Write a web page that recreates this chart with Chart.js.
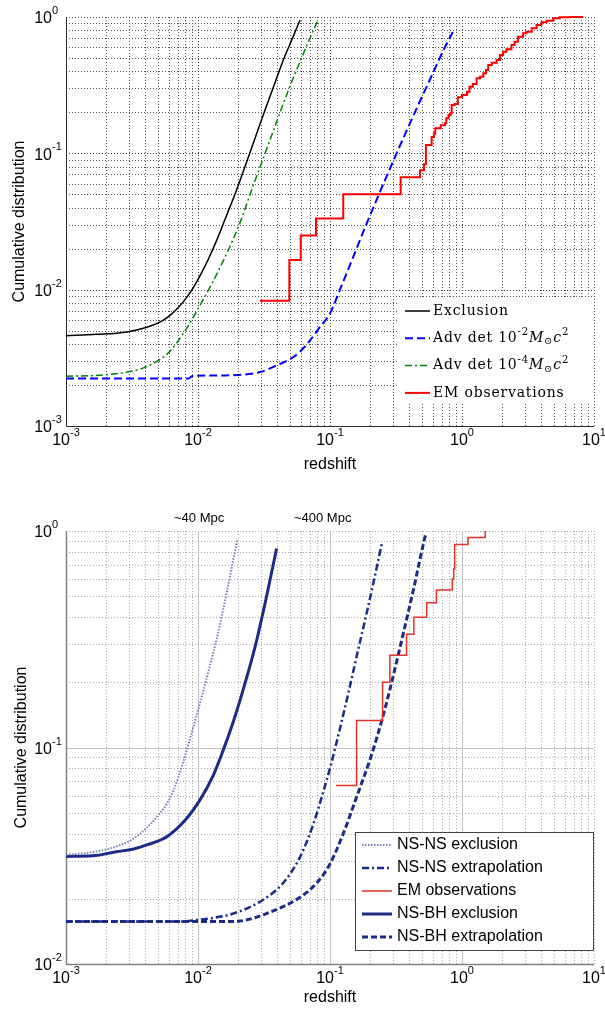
<!DOCTYPE html>
<html>
<head>
<meta charset="utf-8">
<script src="https://cdn.jsdelivr.net/npm/chart.js@4.4.1/dist/chart.umd.min.js"></script>
<style>
  body { margin: 0; background: #fff; }
  canvas { display: block; }
</style>
</head>
<body>
<canvas id="top" width="605" height="490"></canvas>
<canvas id="bottom" width="605" height="521"></canvas>
<script>
// ---- upper panel ----
const exclZ = [0.001, 0.0017, 0.0029, 0.0041, 0.005, 0.0058, 0.0068, 0.0077, 0.0089, 0.0102, 0.012, 0.0139, 0.016, 0.0196, 0.025, 0.0312, 0.037, 0.0443, 0.052, 0.0593];
const exclP = [0.0046, 0.0047, 0.0049, 0.0053, 0.0057, 0.0062, 0.0071, 0.0081, 0.0098, 0.0123, 0.0168, 0.0232, 0.0327, 0.0538, 0.104, 0.191, 0.30, 0.484, 0.70, 0.95];

const det2Z = [0.001, 0.0085, 0.009, 0.016, 0.03, 0.04, 0.05, 0.059, 0.07, 0.084, 0.1, 0.12, 0.15, 0.19, 0.24, 0.3, 0.38, 0.48, 0.6, 0.73, 0.86];
const det2P = [0.00223, 0.00223, 0.00232, 0.00235, 0.0025, 0.0028, 0.0031, 0.0035, 0.0042, 0.00534, 0.0067, 0.0102, 0.0174, 0.0307, 0.0526, 0.0869, 0.146, 0.241, 0.385, 0.581, 0.79];

const det4Z = [0.001, 0.0016, 0.0024, 0.0031, 0.0039, 0.0048, 0.0058, 0.0068, 0.0082, 0.0103, 0.013, 0.0155, 0.0185, 0.0208, 0.0262, 0.032, 0.0394, 0.0497, 0.0593, 0.07, 0.081];
const det4P = [0.00232, 0.00234, 0.00242, 0.00252, 0.00268, 0.00295, 0.00335, 0.0040, 0.0052, 0.0076, 0.0115, 0.0162, 0.0235, 0.031, 0.058, 0.098, 0.17, 0.31, 0.47, 0.69, 0.95];

const emZ = [0.0295, 0.0492, 0.060, 0.0783, 0.126, 0.343, 0.481, 0.515, 0.533, 0.589, 0.613, 0.627, 0.69, 0.743, 0.76, 0.79, 0.82, 0.835, 0.88, 0.93, 1.0, 1.09, 1.14, 1.21, 1.29, 1.37, 1.45, 1.52, 1.58, 1.68, 1.83, 1.94, 2.05, 2.17, 2.37, 2.5, 2.65, 2.9, 3.07, 3.37, 3.67, 4.0, 4.37, 4.9, 5.5, 6.6, 8.3];
const emP = [0.0083, 0.0165, 0.025, 0.0333, 0.05, 0.0667, 0.075, 0.0833, 0.115, 0.132, 0.140, 0.153, 0.161, 0.166, 0.181, 0.191, 0.197, 0.226, 0.23, 0.258, 0.268, 0.283, 0.308, 0.322, 0.355, 0.365, 0.386, 0.408, 0.444, 0.462, 0.484, 0.526, 0.557, 0.579, 0.623, 0.659, 0.717, 0.759, 0.78, 0.826, 0.873, 0.914, 0.94, 0.978, 0.995, 1.0, 1.0];

// ---- lower panel ----
const nsnsExclZ = [0.001, 0.0014, 0.0018, 0.0025, 0.0032, 0.004, 0.0049, 0.0057, 0.0065, 0.0077, 0.009, 0.0105, 0.012, 0.0139, 0.0165, 0.0199];
const nsnsExclP = [0.032, 0.0325, 0.0333, 0.0352, 0.0377, 0.042, 0.048, 0.054, 0.063, 0.085, 0.118, 0.165, 0.225, 0.32, 0.52, 0.92];

const nsnsExtZ = [0.001, 0.0073, 0.01, 0.013, 0.0185, 0.0295, 0.044, 0.059, 0.0745, 0.09, 0.102, 0.12, 0.141, 0.165, 0.19, 0.22, 0.247];
const nsnsExtP = [0.0157, 0.0157, 0.016, 0.0163, 0.0171, 0.0194, 0.0236, 0.031, 0.044, 0.064, 0.084, 0.125, 0.19, 0.29, 0.42, 0.63, 0.875];

const em2Z = [0.111, 0.159, 0.25, 0.284, 0.38, 0.432, 0.54, 0.64, 0.845, 0.865, 0.88, 1.11, 1.5];
const em2P = [0.0667, 0.1333, 0.2, 0.2667, 0.3333, 0.4, 0.4667, 0.5333, 0.6, 0.6667, 0.8667, 0.9333, 1.0];

const nsbhExclZ = [0.001, 0.0016, 0.0024, 0.0032, 0.0041, 0.0058, 0.0082, 0.0103, 0.013, 0.0155, 0.018, 0.0208, 0.027, 0.0331, 0.0394];
const nsbhExclP = [0.0314, 0.0316, 0.033, 0.0339, 0.0355, 0.0387, 0.047, 0.057, 0.074, 0.097, 0.125, 0.165, 0.29, 0.50, 0.83];

const nsbhExtZ = [0.001, 0.015, 0.0208, 0.033, 0.059, 0.079, 0.1, 0.126, 0.159, 0.207, 0.25, 0.284, 0.33, 0.38, 0.43, 0.48, 0.533];
const nsbhExtP = [0.0157, 0.0157, 0.0158, 0.0171, 0.0203, 0.0236, 0.029, 0.040, 0.059, 0.093, 0.137, 0.185, 0.27, 0.39, 0.54, 0.74, 0.98];

// axis decades (tick labels are 10^e)
const xExp = [-3, -2, -1, 0, 1];
const yExpTop = [-3, -2, -1, 0];
const yExpBottom = [-2, -1, 0];

const mpcText = ['~40 Mpc', '~400 Mpc'];
const mpcZ = [0.0102, 0.088];

const pts = (z, p) => z.map((v, i) => ({ x: v, y: p[i] }));

// split "a^{b}c_{d}" into plain / superscript / subscript runs
function richParts(s) {
  const parts = [];
  const re = /([\^_])\{([^}]*)\}/g;
  let last = 0, m;
  while ((m = re.exec(s))) {
    if (m.index > last) parts.push({ t: s.slice(last, m.index), k: '' });
    parts.push({ t: m[2], k: m[1] });
    last = re.lastIndex;
  }
  if (last < s.length) parts.push({ t: s.slice(last), k: '' });
  return parts;
}

function drawRich(ctx, text, x, y, f) {
  const parts = richParts(text);
  ctx.textBaseline = 'middle';
  ctx.textAlign = 'left';
  ctx.fillStyle = '#000';
  ctx.letterSpacing = f.spacing || '0px';
  parts.forEach((p, i) => {
    const next = parts[i + 1];
    let size = f.size, dy = 0, style = '';
    if (p.k === '^') { size = f.size * 0.72; dy = -f.size * 0.4; }
    else if (p.k === '_') { size = f.size * 0.72; dy = f.size * 0.25; }
    else if (p.t.length === 1 && next && next.k) style = 'italic ';
    ctx.font = `${style}${size}px ${f.family}`;
    ctx.fillText(p.t, x, y + dy);
    x += ctx.measureText(p.t).width;
  });
  ctx.letterSpacing = '0px';
}

// "10" with a raised exponent
function powLabel(ctx, x, y, e, mode) {
  const base = '10', ex = String(e);
  ctx.textBaseline = 'middle';
  ctx.fillStyle = '#000';
  ctx.font = '16px "Liberation Sans", Arial, sans-serif';
  const wb = ctx.measureText(base).width;
  ctx.font = '11px "Liberation Sans", Arial, sans-serif';
  const we = ctx.measureText(ex).width;
  let x0 = mode === 'center' ? x - (wb + we) / 2 : x - wb;
  ctx.textAlign = 'left';
  ctx.font = '16px "Liberation Sans", Arial, sans-serif';
  ctx.fillText(base, x0, y);
  ctx.font = '11px "Liberation Sans", Arial, sans-serif';
  ctx.fillText(ex, x0 + wb, y - 8);
}

function gridPlugin(style) {
  return {
    id: 'logGrid',
    beforeDatasetsDraw(chart) {
      const { ctx, chartArea: a, scales: { x, y } } = chart;
      ctx.save();
      ctx.lineWidth = 1;
      const stroke = (s, x0, y0, x1, y1) => {
        ctx.strokeStyle = s.color;
        ctx.setLineDash(s.dash);
        ctx.beginPath(); ctx.moveTo(x0, y0); ctx.lineTo(x1, y1); ctx.stroke();
      };
      const pick = (m, edge) => (m === 1 && !edge ? style.major : style.minor);
      xExp.forEach(e => {
        for (let m = 1; m <= 9; m++) {
          const v = m * Math.pow(10, e);
          if (v > x.max * 1.001 || v < x.min * 0.999) continue;
          if (Math.abs(v - x.min) < 1e-9) continue;
          const px = Math.round(x.getPixelForValue(v)) + 0.5;
          stroke(pick(m, Math.abs(v - x.max) < 1e-6), px, a.top, px, a.bottom);
        }
      });
      style.yExp.forEach(e => {
        for (let m = 1; m <= 9; m++) {
          const v = m * Math.pow(10, e);
          if (v > y.max * 1.001 || v < y.min * 0.999) continue;
          if (Math.abs(v - y.min) < 1e-9) continue;
          const py = Math.round(y.getPixelForValue(v)) + 0.5;
          stroke(pick(m, Math.abs(v - y.max) < 1e-6), a.left, py, a.right, py);
        }
      });
      // solid left and bottom axes
      ctx.setLineDash([]);
      ctx.strokeStyle = style.axis;
      ctx.lineWidth = style.axisWidth;
      ctx.beginPath();
      ctx.moveTo(Math.round(a.left) + 0.5, a.top);
      ctx.lineTo(Math.round(a.left) + 0.5, Math.round(a.bottom) + 0.5);
      ctx.lineTo(a.right, Math.round(a.bottom) + 0.5);
      ctx.stroke();
      ctx.restore();
    }
  };
}

function textPlugin(opt) {
  return {
    id: 'axisText',
    afterDraw(chart) {
      const { ctx, chartArea: a, scales: { x, y } } = chart;
      ctx.save();
      xExp.forEach(e => powLabel(ctx, x.getPixelForValue(Math.pow(10, e)), a.bottom + 15, e, 'center'));
      opt.yExp.forEach(e => powLabel(ctx, a.left - 14, y.getPixelForValue(Math.pow(10, e)) + 2, e, 'right'));

      ctx.fillStyle = '#000';
      ctx.font = '16px "Liberation Sans", Arial, sans-serif';
      ctx.textAlign = 'center';
      ctx.textBaseline = 'middle';
      ctx.fillText('redshift', (a.left + a.right) / 2, a.bottom + opt.xTitleGap);
      ctx.save();
      ctx.translate(opt.yTitleX, (a.top + a.bottom) / 2);
      ctx.rotate(-Math.PI / 2);
      ctx.fillText('Cumulative distribution', 0, 0);
      ctx.restore();

      if (opt.notes) {
        ctx.font = '13px "Liberation Sans", Arial, sans-serif';
        opt.notes.text.forEach((t, i) => ctx.fillText(t, x.getPixelForValue(opt.notes.z[i]), a.top - 13));
      }

      // legend
      const L = opt.legend;
      ctx.fillStyle = '#fff';
      ctx.fillRect(L.x, L.y, L.w, L.h);
      if (L.border) {
        ctx.strokeStyle = L.border;
        ctx.lineWidth = 1;
        ctx.strokeRect(L.x + 0.5, L.y + 0.5, L.w - 1, L.h - 1);
      }
      chart.data.datasets.forEach((ds, i) => {
        const cy = L.y + L.first + i * L.step;
        ctx.strokeStyle = ds.borderColor;
        ctx.lineWidth = ds.borderWidth;
        ctx.setLineDash(ds.borderDash || []);
        ctx.beginPath();
        ctx.moveTo(L.x + L.line[0], cy);
        ctx.lineTo(L.x + L.line[1], cy);
        ctx.stroke();
        ctx.setLineDash([]);
        drawRich(ctx, ds.label, L.x + L.textX, cy, L.font);
      });
      ctx.restore();
    }
  };
}

function logChart(id, datasets, o) {
  return new Chart(document.getElementById(id), {
    type: 'line',
    data: { datasets },
    options: {
      responsive: false,
      animation: false,
      layout: { padding: o.padding },
      plugins: { legend: { display: false }, tooltip: { enabled: false } },
      elements: { point: { radius: 0 }, line: { tension: 0 } },
      scales: {
        x: { type: 'logarithmic', min: 0.001, max: 10, display: false },
        y: { type: 'logarithmic', min: o.yMin, max: 1, display: false }
      }
    },
    plugins: [gridPlugin(o.grid), textPlugin(o.text)]
  });
}

const smooth = { cubicInterpolationMode: 'monotone', clip: false, fill: false };

logChart('top', [
  { label: 'Exclusion', data: pts(exclZ, exclP), borderColor: '#000000', borderWidth: 1.5, ...smooth },
  { label: 'Adv det 10^{-2}M_{⊙}c^{2}', data: pts(det2Z, det2P), borderColor: '#0000ff', borderWidth: 2, borderDash: [8, 4], ...smooth },
  { label: 'Adv det 10^{-4}M_{⊙}c^{2}', data: pts(det4Z, det4P), borderColor: '#008000', borderWidth: 1.5, borderDash: [7, 3, 2, 3], ...smooth },
  { label: 'EM observations', data: pts(emZ, emP), borderColor: '#ff0000', borderWidth: 2, stepped: 'before', clip: false }
], {
  padding: { left: 66, top: 17, right: 11, bottom: 64 },
  yMin: 0.001,
  grid: { yExp: yExpTop, major: { color: '#3a3a3a', dash: [1, 2] }, minor: { color: '#555', dash: [1, 2] }, axis: '#2a2a2a', axisWidth: 1 },
  text: {
    yExp: yExpTop, xTitleGap: 39, yTitleX: 20,
    legend: { x: 399, y: 299, w: 193, h: 104, first: 12, step: 27.3, line: [6, 31], textX: 34,
      font: { size: 14, family: '"DejaVu Serif", serif', spacing: '0.8px' } }
  }
});

logChart('bottom', [
  { label: 'NS-NS exclusion', data: pts(nsnsExclZ, nsnsExclP), borderColor: '#7480b4', borderWidth: 2, borderDash: [1.5, 1.5], ...smooth },
  { label: 'NS-NS extrapolation', data: pts(nsnsExtZ, nsnsExtP), borderColor: '#1c2b86', borderWidth: 2.5, borderDash: [7, 3, 2, 3], ...smooth },
  { label: 'EM observations', data: pts(em2Z, em2P), borderColor: '#e3312b', borderWidth: 1.5, stepped: 'before', clip: false },
  { label: 'NS-BH exclusion', data: pts(nsbhExclZ, nsbhExclP), borderColor: '#1c2b86', borderWidth: 3, ...smooth },
  { label: 'NS-BH extrapolation', data: pts(nsbhExtZ, nsbhExtP), borderColor: '#1c2b86', borderWidth: 3, borderDash: [6, 3], ...smooth }
], {
  padding: { left: 66, top: 41, right: 11, bottom: 47 },
  yMin: 0.01,
  grid: { yExp: yExpBottom, major: { color: '#c2c2c2', dash: [] }, minor: { color: '#a8a8a8', dash: [1, 2] }, axis: '#808080', axisWidth: 1.5 },
  text: {
    yExp: yExpBottom, xTitleGap: 34, yTitleX: 22,
    notes: { text: mpcText, z: mpcZ },
    legend: { x: 355, y: 342, w: 239, h: 119, first: 13, step: 23, line: [7, 37], textX: 42,
      border: '#444', font: { size: 16, family: '"Liberation Sans", Arial, sans-serif' } }
  }
});
</script>
</body>
</html>
